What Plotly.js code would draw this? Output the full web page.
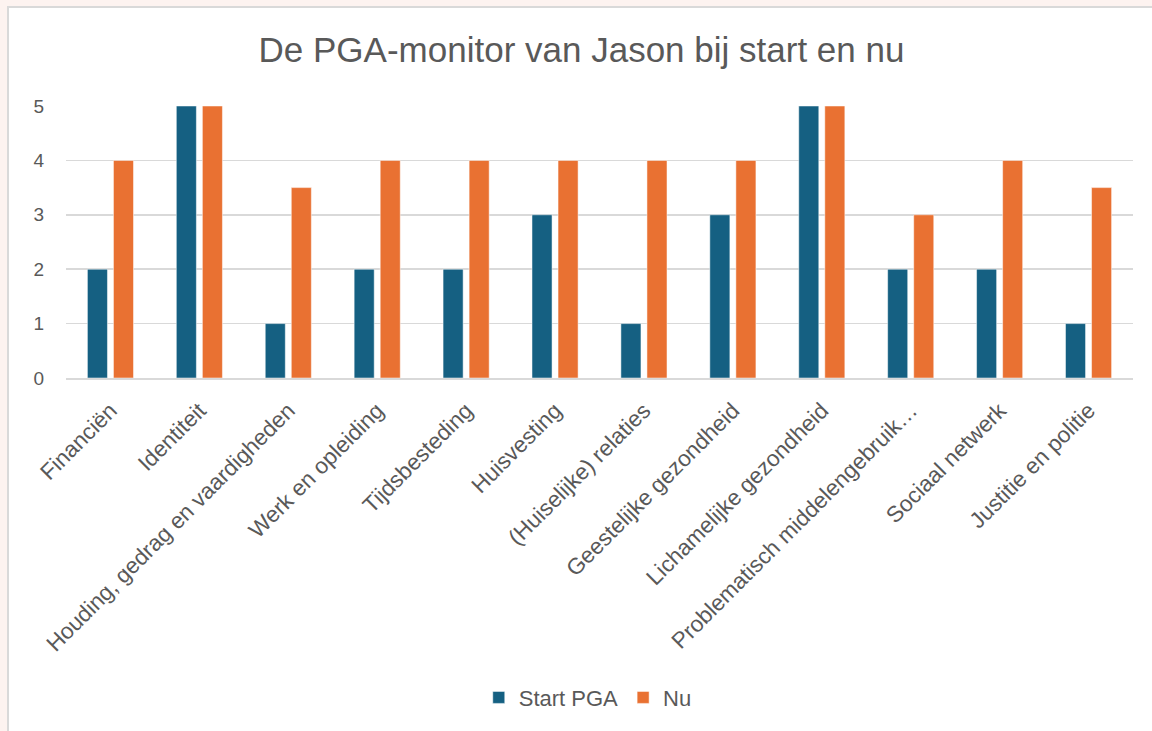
<!DOCTYPE html>
<html>
<head>
<meta charset="utf-8">
<script src="https://cdn.plot.ly/plotly-3.0.1.min.js"></script>
<style>
  html, body { margin: 0; padding: 0; width: 1152px; height: 731px; overflow: hidden; background: #fdf3f0; }
  #frame { position: absolute; left: 7px; top: 6px; width: 1145px; height: 725px;
           border-left: 2px solid #d9d9d9; border-top: 2px solid #d9d9d9; background: #ffffff; }
  #chart { width: 1145px; height: 725px; }
</style>
</head>
<body>
<div id="frame"><div id="chart"></div></div>
<script>
const categories = [
  "Financiën", "Identiteit", "Houding, gedrag en vaardigheden", "Werk en opleiding",
  "Tijdsbesteding", "Huisvesting", "(Huiselijke) relaties", "Geestelijke gezondheid",
  "Lichamelijke gezondheid", "Problematisch middelengebruik…", "Sociaal netwerk", "Justitie en politie"
];
const startPGA = [2, 5, 1, 2, 2, 3, 1, 3, 5, 2, 2, 1];
const nu = [4, 5, 3.5, 4, 4, 4, 4, 4, 5, 3, 4, 3.5];
const yTicks = [0, 1, 2, 3, 4, 5];

const font = "Liberation Sans, Arial, sans-serif";
const gray = "#595959";

const traces = [
  { type: "bar", name: "Start PGA", x: categories, y: startPGA,
    marker: { color: "#156082", line: { color: "#ffffff", width: 0.5 } } },
  { type: "bar", name: "Nu", x: categories, y: nu,
    marker: { color: "#e97132", line: { color: "#ffffff", width: 0.5 } } }
];

const layout = {
  width: 1145, height: 725,
  paper_bgcolor: "#ffffff", plot_bgcolor: "#ffffff",
  margin: { l: 57, r: 21, t: 98, b: 355 },
  title: { text: "De PGA-monitor van Jason bij start en nu", x: 0.5, xanchor: "center",
           y: 0.943, yref: "container", yanchor: "middle",
           font: { family: font, size: 35, color: gray } },
  barmode: "group", bargap: 0.414, bargroupgap: 0.23,
  xaxis: { tickangle: -45, automargin: false, showgrid: false, showline: true,
           linecolor: "#d9d9d9", linewidth: 1.5, ticks: "", ticklabelstandoff: 9,
           tickfont: { family: font, size: 22.5, color: gray } },
  yaxis: { range: [0, 5], tickvals: yTicks, showgrid: true, gridcolor: "#d9d9d9", gridwidth: 1.5,
           zeroline: false, showline: false, ticks: "", automargin: false, ticklabelstandoff: 21,
           tickfont: { family: font, size: 19, color: gray } },
  legend: { orientation: "h", x: 0.489, xanchor: "center", y: -1.175, yanchor: "middle",
            font: { family: font, size: 22, color: gray }, itemwidth: 30, traceorder: "normal" },
  showlegend: true
};

Plotly.newPlot("chart", traces, layout, { displayModeBar: false, staticPlot: true });
</script>
</body>
</html>
